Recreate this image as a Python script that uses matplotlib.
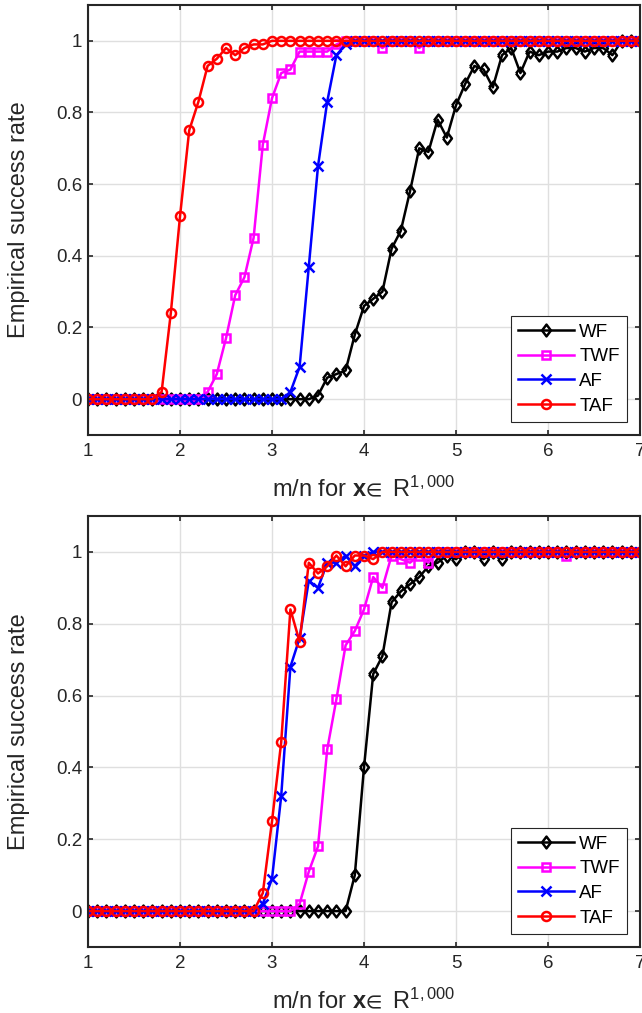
import numpy as np
import matplotlib
matplotlib.use("Agg")
import matplotlib.pyplot as plt

plt.rcParams["font.family"] = ["Liberation Sans", "DejaVu Sans"]
plt.rcParams["mathtext.fontset"] = "custom"
plt.rcParams["mathtext.rm"] = "Liberation Sans"
plt.rcParams["mathtext.bf"] = "Liberation Sans:bold"
plt.rcParams["mathtext.it"] = "Liberation Sans:italic"
plt.rcParams["mathtext.fallback"] = "stixsans"

# m/n grid, 1.0 ... 7.0 in steps of 0.1
ratio = np.linspace(1, 7, 61)

# top panel
wf_top = [0] * 25 + [0.01, 0.06, 0.07, 0.08, 0.18, 0.26, 0.28, 0.30, 0.42, 0.47,
                     0.58, 0.70, 0.69, 0.78, 0.73, 0.82, 0.88, 0.93, 0.92, 0.87,
                     0.96, 0.98, 0.91, 0.97, 0.96, 0.97, 0.97, 0.98, 0.98, 0.97,
                     0.98, 0.98, 0.96, 1.0, 1.0, 1.0]
twf_top = [0] * 13 + [0.02, 0.07, 0.17, 0.29, 0.34, 0.45, 0.71, 0.84, 0.91, 0.92,
                      0.97, 0.97, 0.97, 0.97, 0.99] \
    + [1] * 4 + [0.98] + [1] * 3 + [0.98] + [1] * 24
af_top = [0] * 22 + [0.02, 0.09, 0.37, 0.65, 0.83, 0.96, 0.99] + [1] * 32
taf_top = [0] * 8 + [0.02, 0.24, 0.51, 0.75, 0.83, 0.93, 0.95, 0.98, 0.96, 0.98,
                     0.99, 0.99] + [1] * 41

# bottom panel
wf_bot = [0] * 29 + [0.10, 0.40, 0.66, 0.71, 0.86, 0.89, 0.91, 0.93, 0.96, 0.97,
                     0.99, 0.98, 1.0, 1.0, 0.98, 1.0, 0.98] + [1] * 15
twf_bot = [0] * 23 + [0.02, 0.11, 0.18, 0.45, 0.59, 0.74, 0.78, 0.84, 0.93, 0.90,
                      0.99, 0.98, 0.97, 0.99, 0.97, 1.0] \
    + [1] * 13 + [0.99] + [1] * 8
af_bot = [0] * 19 + [0.02, 0.09, 0.32, 0.68, 0.76, 0.92, 0.90, 0.97, 0.97, 0.99,
                     0.96, 0.99] + [1] * 30
taf_bot = [0] * 19 + [0.05, 0.25, 0.47, 0.84, 0.75, 0.97, 0.94, 0.96, 0.99, 0.96,
                      0.99, 0.99, 0.98] + [1] * 29

names = ["WF", "TWF", "AF", "TAF"]
x_ticks = [1, 2, 3, 4, 5, 6, 7]
y_ticks = [0, 0.2, 0.4, 0.6, 0.8, 1]
y_tick_labels = ["0", "0.2", "0.4", "0.6", "0.8", "1"]

diamond = [(-0.75, 0), (0, 1), (0.75, 0), (0, -1), (-0.75, 0)]
styles = [
    dict(color="#000000", marker=diamond, ms=8.5),
    dict(color="#ff00ff", marker="s", ms=5.5),
    dict(color="#0000ff", marker="x", ms=7.5),
    dict(color="#ff0000", marker="o", ms=6.5),
]

ink = "#262626"
fig = plt.figure(figsize=(6.42, 10.13), dpi=100)
ax_top = fig.add_axes([88 / 642, 1 - 435 / 1013, 552 / 642, 430 / 1013])
ax_bot = fig.add_axes([88 / 642, 1 - 947 / 1013, 552 / 642, 431 / 1013])


def draw_panel(ax, series):
    for ys, name, st in zip(series, names, styles):
        ax.plot(ratio, ys, color=st["color"], marker=st["marker"], ms=st["ms"],
                mfc="none", mec=st["color"], mew=1.8, lw=1.8, label=name)
    ax.set_xlim(1, 7)
    ax.set_ylim(-0.1, 1.1)
    ax.set_xticks(x_ticks)
    ax.set_yticks(y_ticks)
    ax.set_yticklabels(y_tick_labels)
    ax.grid(True, color="#dfdfdf", lw=1.0)
    ax.set_axisbelow(True)
    for sp in ax.spines.values():
        sp.set_color(ink)
        sp.set_linewidth(1.5)
    ax.tick_params(direction="in", length=3.6, width=1.2, colors=ink,
                   labelsize=13.5, top=True, right=True)
    ax.tick_params(axis="x", pad=5.5)
    ax.tick_params(axis="y", pad=4.3)
    ax.set_xlabel(r"m/n for $\mathbf{x}\!\in$ R$^{1,000}$", fontsize=17, color=ink)
    ax.set_ylabel("Empirical success rate", fontsize=17, color=ink)
    ax.yaxis.set_label_coords(-0.105, 0.5)
    ax.xaxis.set_label_coords(0.5, -0.095)
    leg = ax.legend(loc="lower right", bbox_to_anchor=(0.976, 0.031),
                    borderaxespad=0, fontsize=13.5, handlelength=3.0,
                    handletextpad=0.25, labelspacing=0.4, borderpad=0.38,
                    fancybox=False, framealpha=1, edgecolor=ink)
    leg.get_frame().set_linewidth(0.8)
    for t in leg.get_texts():
        t.set_color("#000000")


draw_panel(ax_top, [wf_top, twf_top, af_top, taf_top])
draw_panel(ax_bot, [wf_bot, twf_bot, af_bot, taf_bot])

fig.savefig("out.png", dpi=100)
